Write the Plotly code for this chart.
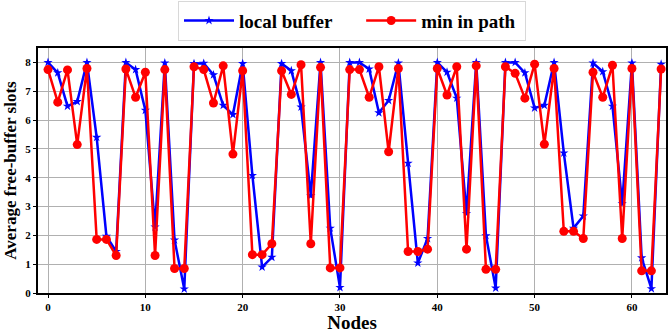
import plotly.graph_objects as go

nodes = list(range(64))
local_buffer = [8.0, 7.64, 6.48, 6.64, 8.0, 5.4, 1.97, 1.44, 8.0, 7.75,
                6.34, 2.29, 7.98, 1.84, 0.14, 7.96, 7.97, 7.57, 6.51, 6.19,
                7.96, 4.08, 0.9, 1.24, 7.96, 7.71, 6.45, 3.38, 8.0, 2.25,
                0.19, 8.0, 8.0, 7.77, 6.25, 6.68, 7.98, 4.5, 1.04, 1.89,
                8.0, 7.66, 6.76, 2.76, 8.0, 1.99, 0.17, 8.0, 8.0, 7.64,
                6.42, 6.51, 8.0, 4.86, 2.25, 2.67, 7.98, 7.68, 6.48, 3.1,
                7.98, 1.22, 0.15, 7.94]
min_in_path = [7.75, 6.62, 7.74, 5.15, 7.79, 1.86, 1.86, 1.3, 7.77, 6.79,
               7.66, 1.3, 7.75, 0.85, 0.85, 7.85, 7.75, 6.59, 7.88, 4.82,
               7.71, 1.33, 1.33, 1.71, 7.71, 6.89, 7.92, 1.71, 7.83, 0.87,
               0.87, 7.75, 7.75, 6.79, 7.85, 4.9, 7.79, 1.44, 1.44, 1.52,
               7.79, 6.87, 7.85, 1.52, 7.88, 0.82, 0.82, 7.85, 7.62, 6.76,
               7.94, 5.16, 7.79, 2.14, 2.14, 1.89, 7.66, 6.79, 7.9, 1.89,
               7.79, 0.77, 0.77, 7.77]
x_ticks = [0, 10, 20, 30, 40, 50, 60]
y_ticks = [0, 1, 2, 3, 4, 5, 6, 7, 8]

font_family = "Liberation Serif"

fig = go.Figure()
fig.add_trace(go.Scatter(
    x=nodes, y=local_buffer, mode="lines+markers", name="<b>local buffer</b>     ",
    line=dict(color="#0000ff", width=2.5),
    marker=dict(symbol="star", size=7, color="#0000ff"),
))
fig.add_trace(go.Scatter(
    x=nodes, y=min_in_path, mode="lines+markers", name="<b>min in path</b> ",
    line=dict(color="#ff0000", width=2.5),
    marker=dict(symbol="circle", size=9, color="#ff0000"),
))

fig.update_layout(
    width=669, height=333,
    margin=dict(l=38, r=1, t=44, b=37),
    paper_bgcolor="white", plot_bgcolor="white",
    font=dict(family=font_family, color="black"),
    showlegend=True,
    legend=dict(
        orientation="h", x=0.5, xanchor="center", y=1.03, yanchor="bottom",
        bordercolor="#d8d8d8", borderwidth=1, bgcolor="white",
        font=dict(size=19, family=font_family, color="black"),
        itemwidth=50,
    ),
)
fig.update_xaxes(
    range=[-1.03, 63.5], tickmode="array", tickvals=x_ticks,
    ticktext=[f"<b>{v}</b>" for v in x_ticks],
    tickfont=dict(size=11, family=font_family),
    showgrid=True, gridcolor="#b0b0b0", gridwidth=1,
    showline=True, linecolor="black", linewidth=2, mirror=True,
    ticks="outside", ticklen=3, tickcolor="black",
    zeroline=False,
    title=dict(text="<b>Nodes</b>", font=dict(size=19, family=font_family), standoff=5),
)
fig.update_yaxes(
    range=[0, 8.5], tickmode="array", tickvals=y_ticks,
    ticktext=[f"<b>{v}</b>" for v in y_ticks],
    tickfont=dict(size=11, family=font_family),
    showgrid=True, gridcolor="#b0b0b0", gridwidth=1,
    showline=True, linecolor="black", linewidth=2, mirror=True,
    ticks="outside", ticklen=3, tickcolor="black",
    zeroline=False,
    title=dict(text="<b>Average free-buffer slots</b>", font=dict(size=17, family=font_family), standoff=4),
)

fig.write_html("out.html")
